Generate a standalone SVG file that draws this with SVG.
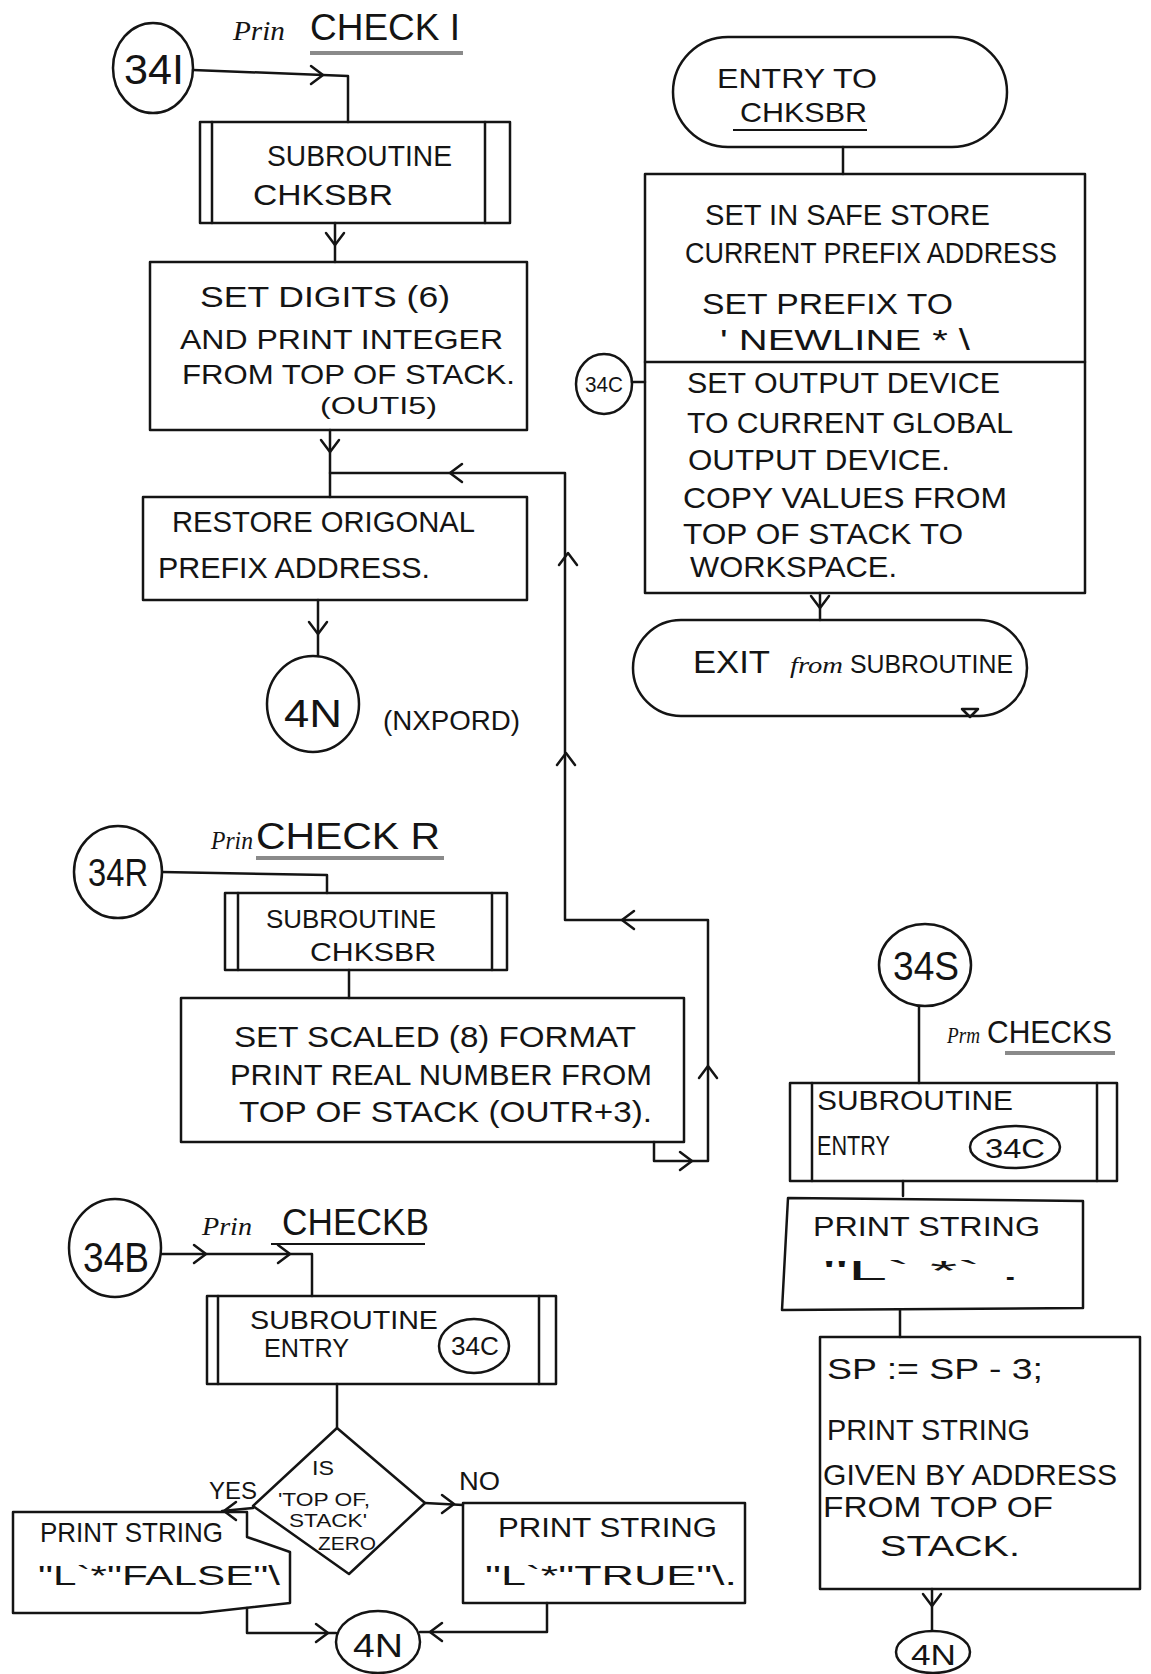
<svg xmlns="http://www.w3.org/2000/svg" xmlns:xlink="http://www.w3.org/1999/xlink" width="1151" height="1674" viewBox="0 0 1151 1674">
<style>
.ln{fill:none;stroke:#141414;stroke-width:2.5;stroke-linecap:round;stroke-linejoin:round}
.t{font-family:"Liberation Sans",Arial,sans-serif;fill:#141414}
.it{font-family:"Liberation Serif","Times New Roman",serif;font-style:italic;fill:#141414}
.ul{stroke:#8a8a8a;stroke-width:4;fill:none}
.ulb{stroke:#141414;stroke-width:2;fill:none}
</style>
<defs>
<path id="chev" d="M-10,-9 L2,0 L-10,9" fill="none" stroke="#141414" stroke-width="2.5" stroke-linecap="round" stroke-linejoin="round"/>
</defs>
<rect width="1151" height="1674" fill="#ffffff"/>

<g id="connectors">
<path class="ln" d="M193,70 L348,76 L348,122"/>
<use xlink:href="#chev" transform="translate(321,75)"/>
<path class="ln" d="M335,223 V262"/>
<use xlink:href="#chev" transform="translate(335,243) rotate(90)"/>
<path class="ln" d="M330,430 V497"/>
<use xlink:href="#chev" transform="translate(330,450) rotate(90)"/>
<path class="ln" d="M318,600 V656"/>
<use xlink:href="#chev" transform="translate(318,632) rotate(90)"/>
<path class="ln" d="M654,1142 V1161 H708 V920 H565 V473 H330"/>
<use xlink:href="#chev" transform="translate(690,1161)"/>
<use xlink:href="#chev" transform="translate(708,1068) rotate(-90)"/>
<use xlink:href="#chev" transform="translate(624,920) rotate(180)"/>
<use xlink:href="#chev" transform="translate(566,755) rotate(-90)"/>
<use xlink:href="#chev" transform="translate(568,555) rotate(-90)"/>
<use xlink:href="#chev" transform="translate(452,473) rotate(180)"/>
<path class="ln" d="M162,872 L327,875 V893"/>
<path class="ln" d="M349,970 V998"/>
<path class="ln" d="M161,1254 H312 V1296"/>
<use xlink:href="#chev" transform="translate(204,1254)"/>
<use xlink:href="#chev" transform="translate(288,1254)"/>
<path class="ln" d="M337,1384 V1428"/>
<path class="ln" d="M253,1508 L222,1511"/>
<use xlink:href="#chev" transform="translate(226,1511) rotate(180)"/>
<path class="ln" d="M425,1503 L463,1505"/>
<use xlink:href="#chev" transform="translate(452,1504)"/>
<path class="ln" d="M247,1608 V1633 H336"/>
<use xlink:href="#chev" transform="translate(326,1633)"/>
<path class="ln" d="M547,1603 V1632 H420"/>
<use xlink:href="#chev" transform="translate(432,1632) rotate(180)"/>
<path class="ln" d="M919,1006 V1083"/>
<path class="ln" d="M903,1181 V1196"/>
<path class="ln" d="M900,1310 V1337"/>
<path class="ln" d="M932,1589 V1630"/>
<use xlink:href="#chev" transform="translate(932,1604) rotate(90)"/>
<path class="ln" d="M843,147 V174"/>
<path class="ln" d="M820,593 V620"/>
<use xlink:href="#chev" transform="translate(820,606) rotate(90)"/>
<path class="ln" d="M632,382 H645"/>
</g>

<g id="title-checki">
<text class="it" x="233" y="40" font-size="28" textLength="52" lengthAdjust="spacingAndGlyphs">Prin</text>
<text class="t" x="310" y="40" font-size="36" textLength="150" lengthAdjust="spacingAndGlyphs">CHECK I</text>
<line class="ul" x1="310" y1="53" x2="463" y2="53"/>
</g>

<g id="n34I">
<ellipse class="ln" cx="153" cy="68" rx="40" ry="45"/>
<text class="t" x="124" y="84" font-size="42" textLength="60" lengthAdjust="spacingAndGlyphs">34I</text>
</g>

<g id="sub-chksbr-1">
<rect class="ln" x="200" y="122" width="310" height="101"/>
<line class="ln" x1="212" y1="122" x2="212" y2="223"/>
<line class="ln" x1="485" y1="122" x2="485" y2="223"/>
<text class="t" x="267" y="166" font-size="30" textLength="185" lengthAdjust="spacingAndGlyphs">SUBROUTINE</text>
<text class="t" x="253" y="205" font-size="30" textLength="140" lengthAdjust="spacingAndGlyphs">CHKSBR</text>
</g>

<g id="box-digits">
<rect class="ln" x="150" y="262" width="377" height="168"/>
<text class="t" x="200" y="307" font-size="30" textLength="250" lengthAdjust="spacingAndGlyphs">SET  DIGITS (6)</text>
<text class="t" x="180" y="349" font-size="28" textLength="323" lengthAdjust="spacingAndGlyphs">AND PRINT INTEGER</text>
<text class="t" x="182" y="384" font-size="28" textLength="333" lengthAdjust="spacingAndGlyphs">FROM TOP OF STACK.</text>
<text class="t" x="320" y="414" font-size="24" textLength="117" lengthAdjust="spacingAndGlyphs">(OUTI5)</text>
</g>

<g id="box-restore">
<rect class="ln" x="143" y="497" width="384" height="103"/>
<text class="t" x="172" y="532" font-size="30" textLength="303" lengthAdjust="spacingAndGlyphs">RESTORE ORIGONAL</text>
<text class="t" x="158" y="578" font-size="30" textLength="272" lengthAdjust="spacingAndGlyphs">PREFIX ADDRESS.</text>
</g>

<g id="n4N-a">
<ellipse class="ln" cx="313" cy="704" rx="46" ry="48"/>
<text class="t" x="284" y="727" font-size="38" textLength="58" lengthAdjust="spacingAndGlyphs">4N</text>
<text class="t" x="383" y="730" font-size="28" textLength="137" lengthAdjust="spacingAndGlyphs">(NXPORD)</text>
</g>

<g id="title-checkr">
<text class="it" x="211" y="849" font-size="26" textLength="42" lengthAdjust="spacingAndGlyphs">Prin</text>
<text class="t" x="256" y="849" font-size="36" textLength="184" lengthAdjust="spacingAndGlyphs">CHECK R</text>
<line class="ul" x1="256" y1="858" x2="444" y2="858"/>
</g>

<g id="n34R">
<ellipse class="ln" cx="118" cy="872" rx="44" ry="46"/>
<text class="t" x="88" y="886" font-size="38" textLength="60" lengthAdjust="spacingAndGlyphs">34R</text>
</g>

<g id="sub-chksbr-2">
<rect class="ln" x="225" y="893" width="282" height="77"/>
<line class="ln" x1="238" y1="893" x2="238" y2="970"/>
<line class="ln" x1="492" y1="893" x2="492" y2="970"/>
<text class="t" x="266" y="928" font-size="26" textLength="170" lengthAdjust="spacingAndGlyphs">SUBROUTINE</text>
<text class="t" x="310" y="961" font-size="26" textLength="126" lengthAdjust="spacingAndGlyphs">CHKSBR</text>
</g>

<g id="box-scaled">
<rect class="ln" x="181" y="998" width="503" height="144"/>
<text class="t" x="234" y="1047" font-size="30" textLength="402" lengthAdjust="spacingAndGlyphs">SET SCALED (8) FORMAT</text>
<text class="t" x="230" y="1085" font-size="30" textLength="422" lengthAdjust="spacingAndGlyphs">PRINT REAL NUMBER FROM</text>
<text class="t" x="239" y="1122" font-size="30" textLength="413" lengthAdjust="spacingAndGlyphs">TOP OF STACK (OUTR+3).</text>
</g>

<g id="title-checkb">
<text class="it" x="202" y="1235" font-size="26" textLength="50" lengthAdjust="spacingAndGlyphs">Prin</text>
<text class="t" x="282" y="1235" font-size="36" textLength="147" lengthAdjust="spacingAndGlyphs">CHECKB</text>
<line class="ulb" x1="271" y1="1244" x2="425" y2="1244"/>
</g>

<g id="n34B">
<ellipse class="ln" cx="115" cy="1248" rx="46" ry="49"/>
<text class="t" x="83" y="1272" font-size="42" textLength="66" lengthAdjust="spacingAndGlyphs">34B</text>
</g>

<g id="sub-entry-1">
<rect class="ln" x="207" y="1296" width="349" height="88"/>
<line class="ln" x1="218" y1="1296" x2="218" y2="1384"/>
<line class="ln" x1="539" y1="1296" x2="539" y2="1384"/>
<text class="t" x="250" y="1329" font-size="26" textLength="188" lengthAdjust="spacingAndGlyphs">SUBROUTINE</text>
<text class="t" x="264" y="1357" font-size="26" textLength="85" lengthAdjust="spacingAndGlyphs">ENTRY</text>
<ellipse class="ln" cx="474" cy="1346" rx="35" ry="27"/>
<text class="t" x="451" y="1355" font-size="26" textLength="48" lengthAdjust="spacingAndGlyphs">34C</text>
</g>

<g id="decision">
<polygon class="ln" points="337,1428 425,1503 349,1574 253,1506"/>
<text class="t" x="312" y="1475" font-size="20" textLength="22" lengthAdjust="spacingAndGlyphs">IS</text>
<text class="t" x="278" y="1506" font-size="19" textLength="92" lengthAdjust="spacingAndGlyphs">'TOP OF,</text>
<text class="t" x="289" y="1527" font-size="19" textLength="78" lengthAdjust="spacingAndGlyphs">STACK'</text>
<text class="t" x="318" y="1550" font-size="19" textLength="58" lengthAdjust="spacingAndGlyphs">ZERO</text>
<text class="t" x="209" y="1499" font-size="24" textLength="48" lengthAdjust="spacingAndGlyphs">YES</text>
<text class="t" x="459" y="1490" font-size="26" textLength="41" lengthAdjust="spacingAndGlyphs">NO</text>
</g>

<g id="box-false">
<path class="ln" d="M13,1512 H247 V1537 L290,1552 V1603 L200,1613 H13 Z"/>
<text class="t" x="40" y="1542" font-size="28" textLength="183" lengthAdjust="spacingAndGlyphs">PRINT STRING</text>
<text class="t" x="38" y="1585" font-size="28" textLength="242" lengthAdjust="spacingAndGlyphs">"L`*"FALSE"\</text>
</g>

<g id="box-true">
<rect class="ln" x="463" y="1503" width="282" height="100"/>
<text class="t" x="498" y="1537" font-size="28" textLength="219" lengthAdjust="spacingAndGlyphs">PRINT STRING</text>
<text class="t" x="485" y="1585" font-size="28" textLength="252" lengthAdjust="spacingAndGlyphs">"L`*"TRUE"\.</text>
</g>

<g id="n4N-b">
<ellipse class="ln" cx="378" cy="1642" rx="42" ry="31"/>
<text class="t" x="353" y="1657" font-size="34" textLength="50" lengthAdjust="spacingAndGlyphs">4N</text>
</g>

<g id="title-checks">
<text class="it" x="947" y="1043" font-size="24" textLength="33" lengthAdjust="spacingAndGlyphs">Prm</text>
<text class="t" x="987" y="1043" font-size="32" textLength="125" lengthAdjust="spacingAndGlyphs">CHECKS</text>
<line class="ul" x1="1005" y1="1053" x2="1115" y2="1053"/>
</g>

<g id="n34S">
<ellipse class="ln" cx="925" cy="965" rx="46" ry="41"/>
<text class="t" x="893" y="980" font-size="40" textLength="66" lengthAdjust="spacingAndGlyphs">34S</text>
</g>

<g id="sub-entry-2">
<rect class="ln" x="790" y="1083" width="327" height="98"/>
<line class="ln" x1="812" y1="1083" x2="812" y2="1181"/>
<line class="ln" x1="1097" y1="1083" x2="1097" y2="1181"/>
<text class="t" x="817" y="1110" font-size="28" textLength="196" lengthAdjust="spacingAndGlyphs">SUBROUTINE</text>
<text class="t" x="817" y="1155" font-size="28" textLength="73" lengthAdjust="spacingAndGlyphs">ENTRY</text>
<ellipse class="ln" cx="1015" cy="1147" rx="45" ry="21"/>
<text class="t" x="985" y="1158" font-size="28" textLength="60" lengthAdjust="spacingAndGlyphs">34C</text>
</g>

<g id="box-print-l">
<path class="ln" d="M788,1198 L1083,1201 V1308 L782,1310 Z"/>
<text class="t" x="813" y="1236" font-size="28" textLength="227" lengthAdjust="spacingAndGlyphs">PRINT STRING</text>
<text class="t" x="823" y="1280" font-size="28" textLength="197" lengthAdjust="spacingAndGlyphs">"L` *`   .</text>
</g>

<g id="box-sp">
<rect class="ln" x="820" y="1337" width="320" height="252"/>
<text class="t" x="827" y="1379" font-size="30" textLength="216" lengthAdjust="spacingAndGlyphs">SP := SP - 3;</text>
<text class="t" x="827" y="1440" font-size="30" textLength="203" lengthAdjust="spacingAndGlyphs">PRINT STRING</text>
<text class="t" x="823" y="1485" font-size="30" textLength="294" lengthAdjust="spacingAndGlyphs">GIVEN BY ADDRESS</text>
<text class="t" x="823" y="1517" font-size="30" textLength="230" lengthAdjust="spacingAndGlyphs">FROM TOP OF</text>
<text class="t" x="880" y="1556" font-size="30" textLength="140" lengthAdjust="spacingAndGlyphs">STACK.</text>
</g>

<g id="n4N-c">
<ellipse class="ln" cx="933" cy="1652" rx="37" ry="21"/>
<text class="t" x="911" y="1665" font-size="30" textLength="45" lengthAdjust="spacingAndGlyphs">4N</text>
</g>

<g id="entry-chksbr">
<rect class="ln" x="673" y="37" width="334" height="110" rx="55" ry="55"/>
<text class="t" x="717" y="88" font-size="28" textLength="160" lengthAdjust="spacingAndGlyphs">ENTRY  TO</text>
<text class="t" x="740" y="122" font-size="28" textLength="127" lengthAdjust="spacingAndGlyphs">CHKSBR</text>
<line class="ulb" x1="733" y1="130" x2="867" y2="130"/>
</g>

<g id="box-chksbr">
<rect class="ln" x="645" y="174" width="440" height="419"/>
<line class="ln" x1="645" y1="362" x2="1085" y2="362"/>
<text class="t" x="705" y="225" font-size="29" textLength="285" lengthAdjust="spacingAndGlyphs">SET IN SAFE STORE</text>
<text class="t" x="685" y="263" font-size="29" textLength="372" lengthAdjust="spacingAndGlyphs">CURRENT PREFIX ADDRESS</text>
<text class="t" x="702" y="314" font-size="29" textLength="251" lengthAdjust="spacingAndGlyphs">SET PREFIX TO</text>
<text class="t" x="720" y="350" font-size="29" textLength="250" lengthAdjust="spacingAndGlyphs">' NEWLINE * \</text>
<text class="t" x="687" y="393" font-size="29" textLength="313" lengthAdjust="spacingAndGlyphs">SET OUTPUT DEVICE</text>
<text class="t" x="687" y="433" font-size="29" textLength="326" lengthAdjust="spacingAndGlyphs">TO CURRENT GLOBAL</text>
<text class="t" x="688" y="470" font-size="29" textLength="262" lengthAdjust="spacingAndGlyphs">OUTPUT DEVICE.</text>
<text class="t" x="683" y="508" font-size="29" textLength="324" lengthAdjust="spacingAndGlyphs">COPY VALUES FROM</text>
<text class="t" x="683" y="544" font-size="29" textLength="280" lengthAdjust="spacingAndGlyphs">TOP OF STACK TO</text>
<text class="t" x="690" y="577" font-size="29" textLength="207" lengthAdjust="spacingAndGlyphs">WORKSPACE.</text>
</g>

<g id="n34C-ref">
<ellipse class="ln" cx="604" cy="384" rx="28" ry="30"/>
<text class="t" x="585" y="392" font-size="22" textLength="38" lengthAdjust="spacingAndGlyphs">34C</text>
</g>

<g id="exit-sub">
<rect class="ln" x="633" y="620" width="394" height="96" rx="48" ry="48"/>
<text class="t" x="693" y="673" font-size="32" textLength="77" lengthAdjust="spacingAndGlyphs">EXIT</text>
<text class="it" x="790" y="673" font-size="24" textLength="53" lengthAdjust="spacingAndGlyphs">from</text>
<text class="t" x="850" y="673" font-size="26" textLength="163" lengthAdjust="spacingAndGlyphs">SUBROUTINE</text>
<path class="ln" d="M962,709 L978,709 L970,717 Z"/>
</g>
</svg>
